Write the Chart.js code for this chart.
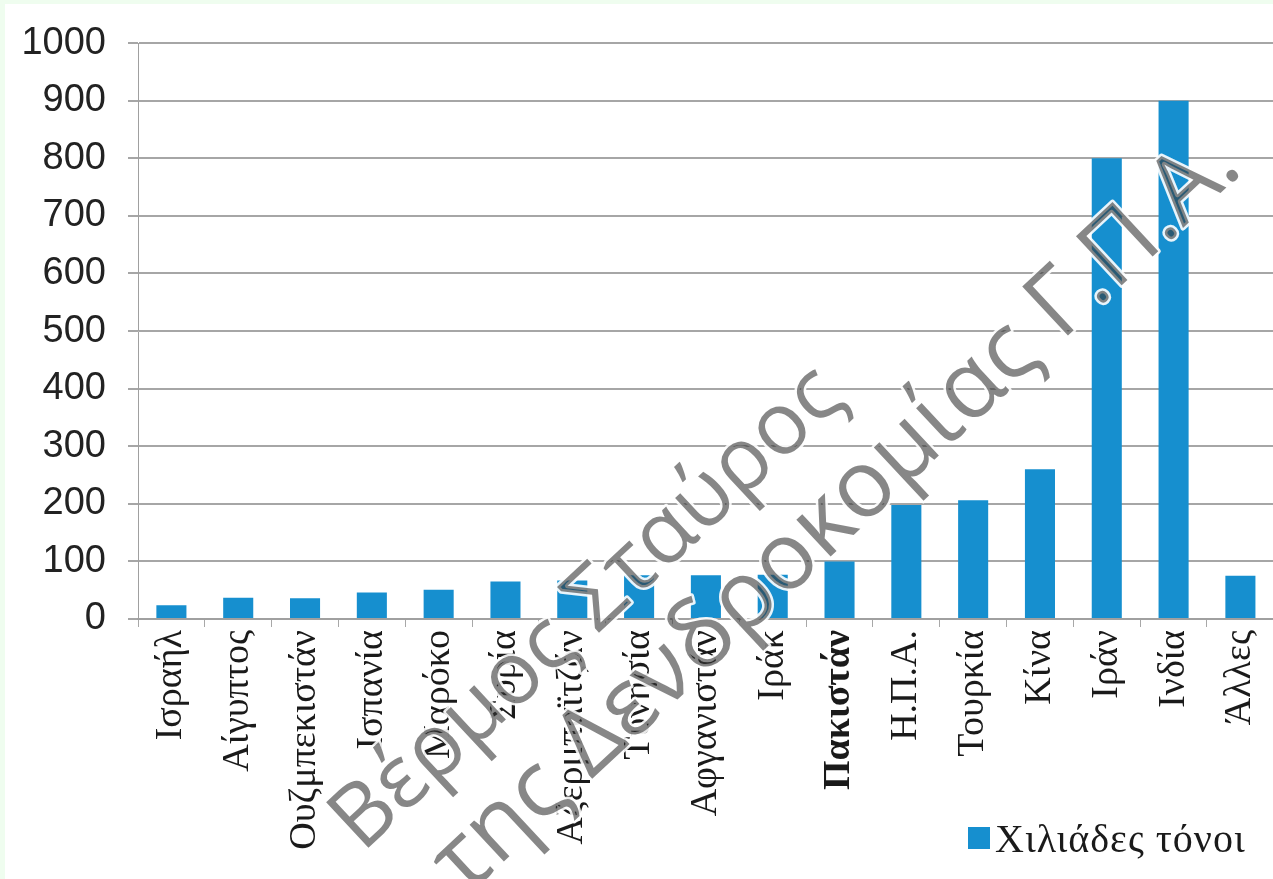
<!DOCTYPE html>
<html>
<head>
<meta charset="utf-8">
<script src="https://cdn.jsdelivr.net/npm/chart.js@4.4.1/dist/chart.umd.min.js"></script>
<style>
  html, body { margin: 0; padding: 0; background: #effdef; }
  #wrap { position: absolute; left: 5px; top: 4px; width: 1268px; height: 875px; background: #ffffff; overflow: hidden; }
  canvas { display: block; }
  #legend { position: absolute; left: 963px; top: 812px; height: 44px; display: flex; align-items: center;
            font-family: "Liberation Serif", "Times New Roman", serif; font-size: 40px; letter-spacing: 1px; color: #1a1a1a; white-space: nowrap; }
  #legend .box { width: 22px; height: 22px; margin-right: 5px; flex: none; }
</style>
</head>
<body>
<div id="wrap"><canvas id="c" width="1284" height="875"></canvas>
<div id="legend"></div></div>
<script>
const categories = ["Ισραήλ", "Αίγυπτος", "Ουζμπεκιστάν", "Ισπανία", "Μαρόκο", "Συρία", "Αζερμπαϊτζάν", "Τυνησία", "Αφγανιστάν", "Ιράκ", "Πακιστάν", "Η.Π.Α.", "Τουρκία", "Κίνα", "Ιράν", "Ινδία", "Άλλες"];
const thousandTonnes = [24, 37, 36, 46, 51, 65, 67, 76, 76, 77, 100, 198, 206, 260, 800, 900, 75];
const seriesLabel = "Χιλιάδες τόνοι";
const yTicks = [0, 100, 200, 300, 400, 500, 600, 700, 800, 900, 1000];
const boldCategory = "Πακιστάν";
const watermarkLines = ["Βέρμος Σταύρος", "της Δενδροκομίας Γ.Π.Α."];
const barColor = '#168fcf';

const watermark = {
  id: 'watermark',
  afterDraw(chart) {
    const ctx = chart.ctx;
    ctx.save();
    ctx.textAlign = 'center';
    ctx.textBaseline = 'alphabetic';
    ctx.lineJoin = 'round';
    const placements = [[600, 623, 87], [850, 530, 94]];
    watermarkLines.forEach((t, i) => {
      ctx.save();
      ctx.font = '400 ' + placements[i][2] + 'px "Open Sans", sans-serif';
      ctx.translate(placements[i][0], placements[i][1]);
      ctx.rotate(-43 * Math.PI / 180);
      ctx.strokeStyle = 'rgba(255,255,255,0.9)';
      ctx.lineWidth = 5;
      ctx.strokeText(t, 0, 0);
      ctx.fillStyle = 'rgba(55,55,55,0.6)';
      ctx.fillText(t, 0, 0);
      ctx.restore();
    });
    ctx.restore();
  }
};

const chart = new Chart(document.getElementById('c'), {
  type: 'bar',
  data: {
    labels: categories,
    datasets: [{
      label: seriesLabel,
      data: thousandTonnes,
      backgroundColor: barColor,
      borderWidth: 0,
      barPercentage: 0.9,
      categoryPercentage: 0.5
    }]
  },
  options: {
    responsive: false,
    animation: false,
    devicePixelRatio: 1,
    layout: { padding: { top: 20, right: 0, bottom: 0, left: 0 } },
    plugins: {
      tooltip: { enabled: false },
      legend: { display: false }
    },
    scales: {
      x: {
        grid: { display: true, drawOnChartArea: false, drawTicks: true, tickLength: 8, color: '#a8a8a8', lineWidth: 1, offset: true },
        border: { display: true, color: '#a0a0a0', width: 2 },
        ticks: {
          autoSkip: false,
          maxRotation: 90,
          minRotation: 90,
          padding: 3,
          color: '#1a1a1a',
          font: (ctx) => ({
            family: '"Liberation Serif", "Times New Roman", serif',
            size: 38,
            weight: categories[ctx.index] === boldCategory ? 'bold' : 'normal'
          })
        },
        afterFit(scale) { scale.height = 260; }
      },
      y: {
        min: 0,
        max: 1000,
        afterBuildTicks(scale) { scale.ticks = yTicks.map(v => ({ value: v })); },
        grid: { color: '#a6a6a6', lineWidth: 2, drawTicks: true, tickLength: 10 },
        border: { display: true, color: '#a0a0a0', width: 1 },
        ticks: {
          padding: 22,
          color: '#222222',
          callback: (v) => String(v),
          font: { family: '"Liberation Sans", Arial, sans-serif', size: 38, lineHeight: 0.9 }
        },
        afterFit(scale) { scale.width = 133; }
      }
    }
  },
  plugins: [watermark]
});

// legend built from the dataset
const lg = document.getElementById('legend');
chart.data.datasets.forEach(ds => {
  const b = document.createElement('span');
  b.className = 'box';
  b.style.background = ds.backgroundColor;
  const t = document.createElement('span');
  t.textContent = ds.label;
  lg.appendChild(b);
  lg.appendChild(t);
});
</script>
</body>
</html>
